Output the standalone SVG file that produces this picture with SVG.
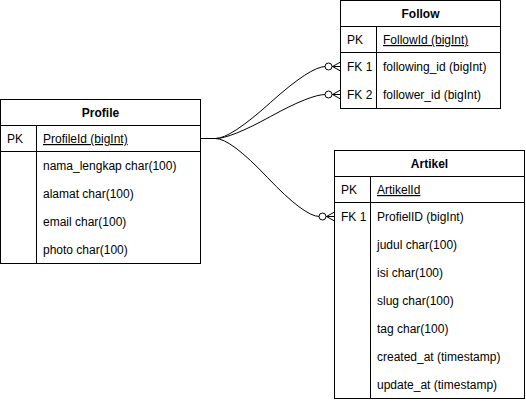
<svg xmlns="http://www.w3.org/2000/svg" width="526" height="402" viewBox="0 0 526 402">
<style>
  .box{fill:#fff;stroke:#000;stroke-width:1}
  .ln{stroke:#000;stroke-width:1;fill:none}
  .t{font-family:"Liberation Sans",Arial,sans-serif;font-size:12px;fill:#000}
  .title{font-weight:bold;text-anchor:middle}
  .u{text-decoration:underline}
  .edge{stroke:#000;stroke-width:1;fill:none;marker-end:url(#zeroMany)}
</style>
<defs>
  <marker id="zeroMany" markerUnits="userSpaceOnUse" orient="auto" refX="20" refY="6" markerWidth="21" markerHeight="12" overflow="visible">
    <circle cx="8" cy="6" r="3.5" fill="#fff" stroke="#000" stroke-width="1"/>
    <path d="M12,6 L20,1.5 M12,6 L20,6 M12,6 L20,10.5" fill="none" stroke="#000" stroke-width="1"/>
  </marker>
</defs>
<rect width="526" height="402" fill="#fff"/>

<g id="connectors">
  <path class="edge" d="M200.5,138.5 L215.5,138.5 Q230.5,138.5 270.5,102.5 Q310.5,66.5 325.5,66.5 L340.5,66.5"/>
  <path class="edge" d="M200.5,138.5 L215.5,138.5 Q230.5,138.5 270.5,116.5 Q310.5,94.5 325.5,94.5 L340.5,94.5"/>
  <path class="edge" d="M200.5,138.5 L215.5,138.5 Q230.5,138.5 267.5,177.5 Q304.5,216.5 319.5,216.5 L334.5,216.5"/>
</g>

<g id="follow">
  <rect class="box" x="340.5" y="0.5" width="160" height="108"/>
  <line class="ln" x1="340.5" y1="26.5" x2="500.5" y2="26.5"/>
  <line class="ln" x1="340.5" y1="52.5" x2="500.5" y2="52.5"/>
  <line class="ln" x1="376.5" y1="26.5" x2="376.5" y2="108.5"/>
  <text class="t title" x="420.5" y="18">Follow</text>
  <text class="t" x="347" y="44">PK</text>
  <text class="t u" x="383" y="44">FollowId (bigInt)</text>
  <text class="t" x="347" y="71">FK 1</text>
  <text class="t" x="383" y="71">following_id (bigInt)</text>
  <text class="t" x="347" y="99">FK 2</text>
  <text class="t" x="383" y="99">follower_id (bigInt)</text>
</g>

<g id="profile">
  <rect class="box" x="0.5" y="99.5" width="200" height="164"/>
  <line class="ln" x1="0.5" y1="125.5" x2="200.5" y2="125.5"/>
  <line class="ln" x1="0.5" y1="151.5" x2="200.5" y2="151.5"/>
  <line class="ln" x1="36.5" y1="125.5" x2="36.5" y2="263.5"/>
  <text class="t title" x="100.5" y="117">Profile</text>
  <text class="t" x="7" y="143">PK</text>
  <text class="t u" x="43" y="143">ProfileId (bigInt)</text>
  <text class="t" x="43" y="170">nama_lengkap char(100)</text>
  <text class="t" x="43" y="198">alamat char(100)</text>
  <text class="t" x="43" y="226">email char(100)</text>
  <text class="t" x="43" y="254">photo char(100)</text>
</g>

<g id="artikel">
  <rect class="box" x="334.5" y="150.5" width="190" height="248"/>
  <line class="ln" x1="334.5" y1="176.5" x2="524.5" y2="176.5"/>
  <line class="ln" x1="334.5" y1="202.5" x2="524.5" y2="202.5"/>
  <line class="ln" x1="370.5" y1="176.5" x2="370.5" y2="398.5"/>
  <text class="t title" x="429.5" y="168">Artikel</text>
  <text class="t" x="341" y="194">PK</text>
  <text class="t u" x="377" y="194">ArtikelId</text>
  <text class="t" x="341" y="221">FK 1</text>
  <text class="t" x="377" y="221">ProfielID (bigInt)</text>
  <text class="t" x="377" y="249">judul char(100)</text>
  <text class="t" x="377" y="277">isi char(100)</text>
  <text class="t" x="377" y="305">slug char(100)</text>
  <text class="t" x="377" y="333">tag char(100)</text>
  <text class="t" x="377" y="361">created_at (timestamp)</text>
  <text class="t" x="377" y="389">update_at (timestamp)</text>
</g>
</svg>
